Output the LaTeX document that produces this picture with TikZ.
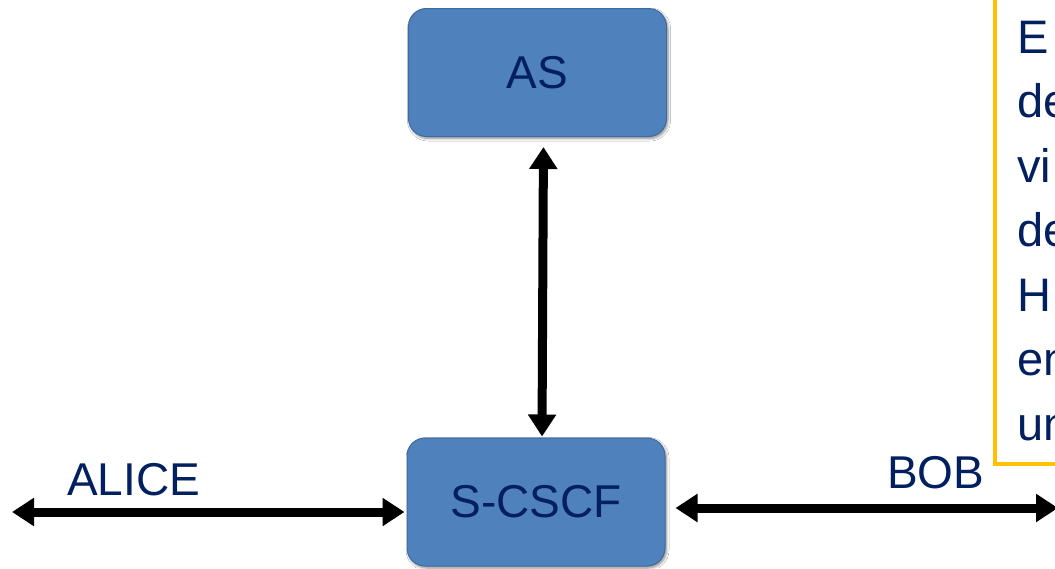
\documentclass[tikz,border=0pt]{standalone}
\usepackage{fontspec}
\setmainfont{Liberation Sans}
\usetikzlibrary{arrows.meta,shadows.blur}
\definecolor{boxblue}{RGB}{79,129,189}
\definecolor{boxedge}{RGB}{62,106,160}
\definecolor{navy}{RGB}{2,32,96}
\definecolor{notegold}{RGB}{255,192,0}
\begin{document}
\begin{tikzpicture}[x=1pt,y=-1pt,
  func/.style={draw=boxedge,line width=1pt,fill=boxblue,rounded corners=18pt,
    minimum width=258pt,minimum height=128pt,inner sep=0pt,
    text=navy,font=\fontsize{46}{55}\selectfont,
    blur shadow={shadow xshift=1.5pt,shadow yshift=-2pt,shadow blur steps=6,
      shadow opacity=45,shadow blur radius=2.5pt}},
  lbl/.style={anchor=base west,inner sep=0pt,text=navy,font=\fontsize{46}{55}\selectfont},
  link/.style={line width=9pt,{Triangle[width=27pt,length=22pt]}-{Triangle[width=27pt,length=22pt]}}]
\useasboundingbox (0,0) rectangle (1055,568);
\clip (0,0) rectangle (1055,568);
\fill[white] (0,0) rectangle (1055,568);

% note box at the right edge (its last baseline sits at y=440)
\draw[notegold,line width=4pt] (1160,-10) -- (995,-10) -- (995,464) -- (1160,464);
\node[anchor=base west,inner sep=0pt,text=navy,align=left,
  font=\fontsize{47}{64.5}\selectfont] (note) at (1017,440)
  {E\\de\\vi\\de\\H\\en\\un};

% functions
\node[func] (as) at (537.5,72.5) {AS};
\node[func] (scscf) at (536,502) {S-CSCF};

% labels
\node[lbl] (alice) at (67,495) {ALICE};
\node[lbl] (bob) at (887,488) {BOB};

% end points of the outer links
\coordinate (aliceend) at (12,512);
\coordinate (bobend) at (1058,508);

% links
\draw[link,shorten <=10pt,shorten >=1pt] ([xshift=6pt]as.south) -- ([xshift=6pt]scscf.north);
\draw[link,shorten >=2pt] (aliceend) -- ([yshift=-10pt]scscf.west);
\draw[link,shorten <=10pt] ([yshift=-6pt]scscf.east) -- (bobend);
\end{tikzpicture}
\end{document}
